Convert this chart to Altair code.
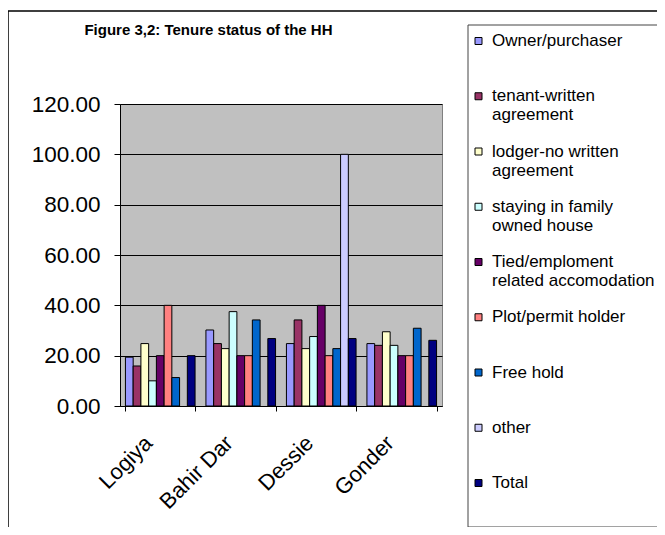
import altair as alt
import pandas as pd

cities = ["Logiya", "Bahir Dar", "Dessie", "Gonder"]
series = [
    "Owner/purchaser",
    "tenant-written agreement",
    "lodger-no written agreement",
    "staying in family owned house",
    "Tied/emploment related accomodation",
    "Plot/permit holder",
    "Free hold",
    "other",
    "Total",
]
legend_labels = [
    "Owner/purchaser",
    "tenant-written\nagreement",
    "lodger-no written\nagreement",
    "staying in family\nowned house",
    "Tied/emploment\nrelated accomodation",
    "Plot/permit holder",
    "Free hold",
    "other",
    "Total",
]
colors = ["#9999FF", "#993366", "#FFFFCC", "#CCFFFF", "#660066",
          "#FF8080", "#0066CC", "#CCCCFF", "#000080"]

owner = [19.4, 30.2, 24.8, 24.8]
tenant = [15.9, 24.8, 34.2, 24.1]
lodger = [24.8, 22.8, 22.8, 29.5]
staying = [10.0, 37.5, 27.6, 24.1]
tied = [20.0, 20.0, 40.0, 20.0]
plot_permit = [40.0, 20.0, 20.0, 20.0]
free_hold = [11.3, 34.2, 22.8, 30.9]
other = [0.0, 0.0, 100.0, 0.0]
total = [20.0, 26.8, 26.8, 26.1]

y_ticks = [0, 20, 40, 60, 80, 100, 120]
title_text = "Figure 3,2: Tenure status of the HH"

all_values = [owner, tenant, lodger, staying, tied, plot_permit, free_hold, other, total]
rows = []
for s, vals in zip(series, all_values):
    for c, v in zip(cities, vals):
        if v > 0:
            rows.append({"city": c, "series": s, "value": v})
df_bars = pd.DataFrame(rows)
df_leg = pd.DataFrame({"series": series, "label": legend_labels, "li": list(range(len(series)))})
df_one = pd.DataFrame({"t": [title_text]})

FONT = "Liberation Sans"
color_scale = alt.Scale(domain=series, range=colors)

frame = alt.Chart(df_one).mark_rect(fill="transparent", stroke="black", strokeWidth=1.5).encode(
    x=alt.value(-112), x2=alt.value(700), y=alt.value(-93), y2=alt.value(700)
)

bars = alt.Chart(df_bars).mark_bar(stroke="black", strokeWidth=1).encode(
    x=alt.X("city:N", sort=cities,
            scale=alt.Scale(paddingInner=0.135, paddingOuter=0.0675),
            axis=alt.Axis(title=None, labelAngle=-45, labelAlign="right", labelBaseline="top",
                          labelFont=FONT, labelFontSize=22, labelColor="black",
                          labelPadding=21, labelOffset=-19,
                          tickBand="extent", tickSize=5, tickColor="black",
                          domainColor="black", grid=False)),
    xOffset=alt.XOffset("series:N", sort=series,
                        scale=alt.Scale(domain=series, paddingInner=0, paddingOuter=0)),
    y=alt.Y("value:Q", scale=alt.Scale(domain=[0, 120], nice=False),
            axis=alt.Axis(title=None, values=y_ticks, format=".2f",
                          labelFont=FONT, labelFontSize=22.5, labelColor="black",
                          labelPadding=14, tickSize=6, tickColor="black",
                          domainColor="black", grid=True, gridColor="black",
                          gridWidth=1)),
    color=alt.Color("series:N", scale=color_scale, legend=None),
)

leg_y = alt.Y("li:Q", scale=alt.Scale(domain=[0, 8], range=[-63, 379], nice=False, zero=False), axis=None)

leg_box = alt.Chart(df_one).mark_rect(fill="white", stroke="#444444", strokeWidth=1).encode(
    x=alt.value(348), x2=alt.value(800), y=alt.value(-79), y2=alt.value(423)
)

leg_sym = alt.Chart(df_leg).mark_square(size=49, stroke="black", strokeWidth=1, opacity=1).encode(
    x=alt.value(358.5), y=leg_y,
    color=alt.Color("series:N", scale=color_scale, legend=None),
)

leg_txt = alt.Chart(df_leg).mark_text(align="left", baseline="middle", font=FONT,
                                     fontSize=17, lineHeight=19, lineBreak="\n",
                                     color="black").encode(
    x=alt.value(372), y=leg_y, text="label:N"
)

title = alt.Chart(df_one).mark_text(align="center", baseline="middle", font=FONT,
                                    fontSize=15, fontWeight="bold", color="black").encode(
    x=alt.value(88.5), y=alt.value(-74), text="t:N"
)

chart = alt.layer(frame, bars, leg_box, leg_sym, leg_txt, title).resolve_scale(
    y="independent"
).properties(
    width=322, height=302,
    autosize=alt.AutoSizeParams(type="none"),
    padding={"left": 112, "top": 96, "right": 215, "bottom": 121},
).configure_view(fill="#C0C0C0", stroke="#808080")

chart.save("out.html", embed_options={"renderer": "svg", "actions": False})
